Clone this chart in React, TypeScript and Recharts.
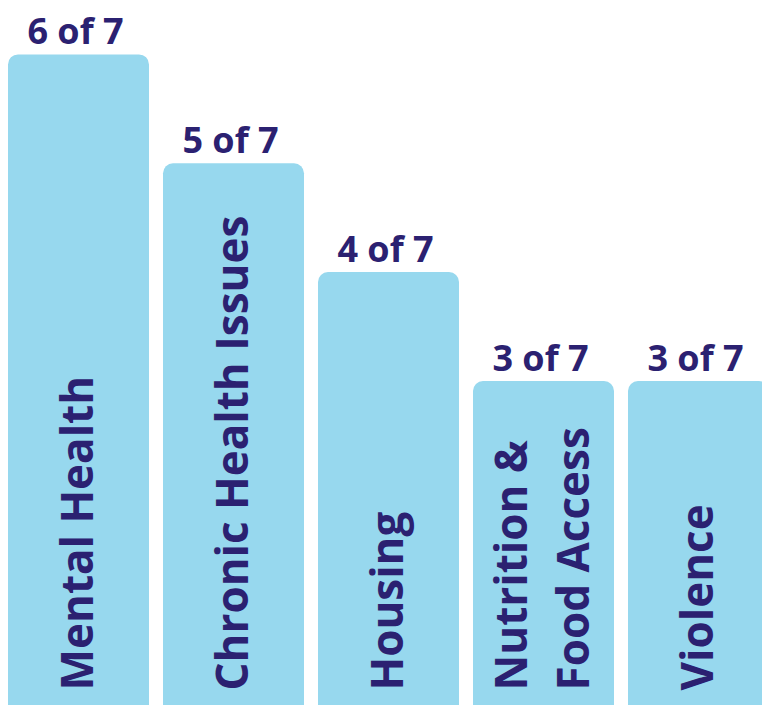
import { Bar, BarChart, LabelList, XAxis, YAxis } from "recharts";

const categories = ["Mental Health", "Chronic Health Issues", "Housing", "Nutrition &\nFood Access", "Violence"];
const counts = [6, 5, 4, 3, 3];
const TOTAL = 7;

const data = categories.map((name, i) => ({ name, count: counts[i] }));

const NAVY = "#2B2171";
const BAR = "#97D8EE";
const FONT = "'Open Sans', sans-serif";

function TopLabel(props: any) {
  const { x, y, width, value } = props;
  return (
    <text x={x + width / 2 - 3} y={y - 10} textAnchor="middle" fill={NAVY} fontFamily={FONT} fontWeight={700} fontSize={36}>
      {`${value} of ${TOTAL}`}
    </text>
  );
}

function NameLabel(props: any) {
  const { x, y, width, height, value } = props;
  const lines = String(value).split("\n");
  const cx = x + width / 2;
  const bottom = y + height - 17;
  const spacing = 62;
  return (
    <g>
      {lines.map((line, i) => {
        const bx = cx + 14 + (i - (lines.length - 1) / 2) * spacing;
        return (
          <text
            key={i}
            x={bx}
            y={bottom}
            transform={`rotate(-90, ${bx}, ${bottom})`}
            textAnchor="start"
            fill={NAVY}
            fontFamily={FONT}
            fontWeight={700}
            fontSize={44}
          >
            {line}
          </text>
        );
      })}
    </g>
  );
}

export default function App() {
  return (
    <div style={{ position: "absolute", left: 0, top: 0, width: 762, height: 705, overflow: "hidden", background: "#fff" }}>
      <BarChart width={776} height={710} data={data} margin={{ top: 0, right: 0, bottom: 2.5, left: 1 }}>
        <XAxis dataKey="name" hide />
        <YAxis hide domain={[0, 6.5]} />
        <Bar dataKey="count" fill={BAR} barSize={141} radius={[10, 10, 0, 0]} isAnimationActive={false}>
          <LabelList dataKey="count" content={TopLabel} />
          <LabelList dataKey="name" content={NameLabel} />
        </Bar>
      </BarChart>
    </div>
  );
}
